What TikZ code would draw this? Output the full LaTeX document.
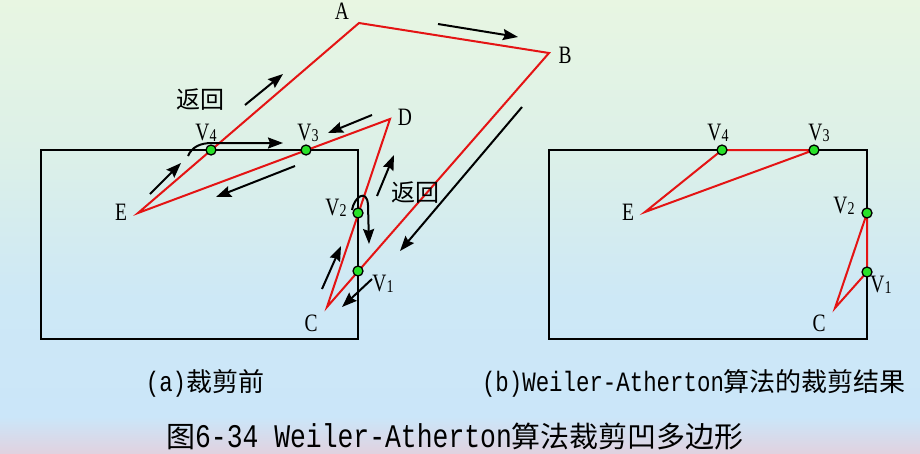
\documentclass[tikz,border=0pt]{standalone}
\usepackage{fontspec}
\setmainfont{Liberation Serif}
\newfontfamily\labfont[FakeStretch=0.78]{Liberation Serif}
\newfontfamily\cjkfont{Noto Sans CJK SC}
\newfontfamily\monofont[FakeStretch=0.8]{Liberation Mono}
\usetikzlibrary{arrows.meta}
\definecolor{bgA}{HTML}{E8F6E2}
\definecolor{bgB}{HTML}{DCF0E8}
\definecolor{bgC}{HTML}{CDE8F6}
\definecolor{bgD}{HTML}{CBE6F9}
\definecolor{bgE}{HTML}{E0D2E0}
\definecolor{polyred}{RGB}{228,20,20}
\definecolor{ptgreen}{RGB}{40,225,40}
\pgfdeclareverticalshading{bgshade}{100bp}{color(0bp)=(bgE); color(25bp)=(bgE); color(29bp)=(bgD); color(42bp)=(bgC); color(58bp)=(bgB); color(75bp)=(bgA); color(100bp)=(bgA)}
\newcommand{\Vsub}[1]{V\raisebox{-1.5pt}{\fontsize{18}{18}\selectfont #1}}
\tikzset{
  win/.style={draw=black, line width=2.2pt},
  redline/.style={draw=polyred, line width=2pt, line join=miter},
  arr/.style={draw=black, line width=2pt, -{Stealth[length=15pt,width=11pt,inset=2pt]}},
  ipt/.style={circle, fill=ptgreen, draw=black, line width=1.3pt, inner sep=0pt, minimum size=10pt},
  lab/.style={font=\labfont\fontsize{25}{25}\selectfont, inner sep=0pt},
  back/.style={font=\cjkfont\fontsize{24}{24}\selectfont, inner sep=0pt},
}
\begin{document}
\begin{tikzpicture}[x=1pt,y=-1pt]
\useasboundingbox (0,0) rectangle (920,453);
\shade[shading=bgshade] (0pt,0pt) rectangle (920pt,-453pt);

% ---------- (a) before clipping ----------
\coordinate (W1) at (41,150);
\coordinate (W2) at (358,150);
\coordinate (W3) at (358,339);
\coordinate (W4) at (41,339);
\draw[win] (W1) -- (W2) -- (W3) -- (W4) -- cycle;

\coordinate (A) at (359,23);
\coordinate (B) at (549,53);
\coordinate (C) at (327,307);
\coordinate (D) at (390,119);
\coordinate (E) at (138,213);
\draw[redline] (A) -- (B) -- (C) -- (D) -- (E) -- cycle;

\node[lab] (lA) at (342,11) {A};
\node[lab] (lB) at (565,55) {B};
\node[lab] (lC) at (311,323) {C};
\node[lab] (lD) at (405,117) {D};
\node[lab] (lE) at (121,212) {E};
\node[lab] (lV4) at (206,133) {\Vsub{4}};
\node[lab] (lV3) at (308,133) {\Vsub{3}};
\node[lab] (lV2) at (336,208) {\Vsub{2}};
\node[lab] (lV1) at (383,284) {\Vsub{1}};

\node[back] (r1) at (200,100) {返回};
\node[back] (r2) at (415,193) {返回};

% direction arrows
\coordinate (a1s) at (438,24);  \coordinate (a1e) at (518,37);
\coordinate (a2s) at (522,107); \coordinate (a2e) at (400,251);
\coordinate (a3s) at (372,279); \coordinate (a3e) at (342,307);
\coordinate (a4s) at (322,289); \coordinate (a4e) at (341,246);
\coordinate (a6s) at (377,196); \coordinate (a6e) at (394,155);
\coordinate (a7s) at (372,115); \coordinate (a7e) at (328,133);
\coordinate (a8s) at (295,166); \coordinate (a8e) at (216,197);
\coordinate (a9s) at (150,194); \coordinate (a9e) at (181,163);
\coordinate (a11s) at (245,105); \coordinate (a11e) at (283,74);
\draw[arr] (a1s) -- (a1e);
\draw[arr] (a2s) -- (a2e);
\draw[arr] (a3s) -- (a3e);
\draw[arr] (a4s) -- (a4e);
\draw[arr] (a6s) -- (a6e);
\draw[arr] (a7s) -- (a7e);
\draw[arr] (a8s) -- (a8e);
\draw[arr] (a9s) -- (a9e);
\draw[arr] (a11s) -- (a11e);
% return loops
\coordinate (a5s) at (352,210); \coordinate (a5m) at (368,205); \coordinate (a5e) at (369,244);
\draw[arr] (a5s) .. controls (354,197) and (367,188) .. (a5m) -- (a5e);
\coordinate (a10s) at (188,156); \coordinate (a10m) at (212,143); \coordinate (a10e) at (283,143);
\draw[arr] (a10s) .. controls (192,147) and (200,143) .. (a10m) -- (a10e);

\node[ipt] (V4) at (211,150) {};
\node[ipt] (V3) at (306,150) {};
\node[ipt] (V2) at (358,213) {};
\node[ipt] (V1) at (358,271) {};

% ---------- (b) result ----------
\coordinate (R1) at (549,150);
\coordinate (R2) at (867,150);
\coordinate (R3) at (867,339);
\coordinate (R4) at (549,339);
\draw[win] (R1) -- (R2) -- (R3) -- (R4) -- cycle;

\coordinate (E2) at (645,212);
\coordinate (C2) at (835,308);
\coordinate (P4b) at (722,150);
\coordinate (P3b) at (814,150);
\coordinate (P2b) at (867,213);
\coordinate (P1b) at (867,272);
\draw[redline] (E2) -- (P4b) -- (P3b) -- cycle;
\draw[redline] (C2) -- (P2b) -- (P1b) -- cycle;
\node[ipt] (V4b) at (P4b) {};
\node[ipt] (V3b) at (P3b) {};
\node[ipt] (V2b) at (P2b) {};
\node[ipt] (V1b) at (P1b) {};

\node[lab] (lE2) at (628,212) {E};
\node[lab] (lC2) at (819,323) {C};
\node[lab] (lV4b) at (718,133) {\Vsub{4}};
\node[lab] (lV3b) at (819,133) {\Vsub{3}};
\node[lab] (lV2b) at (844,206) {\Vsub{2}};
\node[lab] (lV1b) at (881,285) {\Vsub{1}};

% ---------- captions ----------
\node[inner sep=0pt] (capa) at (205,383) {{\monofont\fontsize{28}{28}\selectfont (a)}{\cjkfont\fontsize{26}{26}\selectfont 裁剪前}};
\node[inner sep=0pt] (capb) at (694,383) {{\monofont\fontsize{28}{28}\selectfont (b)Weiler-Atherton}{\cjkfont\fontsize{26}{26}\selectfont 算法的裁剪结果}};
\node[inner sep=0pt] (title) at (455,436) {{\cjkfont\fontsize{29}{29}\selectfont 图}{\monofont\fontsize{33}{33}\selectfont 6-34 Weiler-Atherton}{\cjkfont\fontsize{29}{29}\selectfont 算法裁剪凹多边形}};
\end{tikzpicture}
\end{document}
